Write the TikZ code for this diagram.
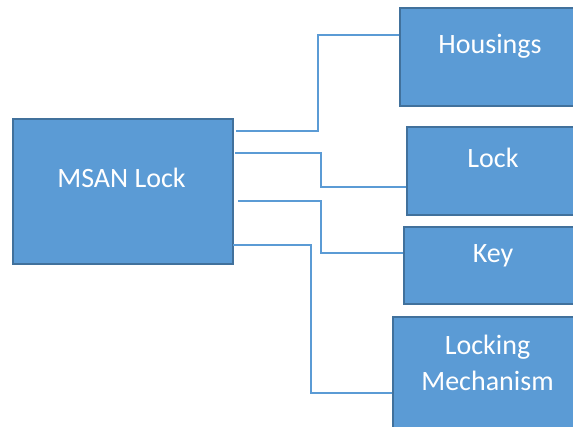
\documentclass[tikz,border=0pt]{standalone}
\usepackage{fontspec}
\setmainfont{Carlito}
\definecolor{boxfill}{HTML}{5B9BD5}
\definecolor{boxline}{HTML}{41719C}
\begin{document}
\begin{tikzpicture}[x=1pt,y=-1pt,
  box/.style={draw=boxline, line width=1.2pt, fill=boxfill, inner sep=0pt, minimum width=200pt},
  lbl/.style={text=white, font=\fontsize{28}{36}\selectfont, inner sep=0pt, anchor=base, align=center},
  conn/.style={draw=boxfill, line width=1.4pt}]
\useasboundingbox (0,0) rectangle (573,427);
\clip (0,0) rectangle (573,427);
\node[box, minimum width=220pt, minimum height=145pt] (msan) at (123,191.5) {};
\node[box, minimum height=98pt] (hous) at (500,57) {};
\node[box, minimum height=88pt] (lock) at (507,171) {};
\node[box, minimum height=77pt] (key) at (504,265.5) {};
\node[box, minimum height=123pt] (lockm) at (493,378.5) {};
\node[lbl] (t0) at (121.5,188) {MSAN Lock};
\node[lbl] (t1) at (490,54) {Housings};
\node[lbl] (t2) at (493,168) {Lock};
\node[lbl] (t3) at (493,263) {Key};
\node[lbl] (t4) at (487.5,391) {Locking\\Mechanism};
\coordinate (s1) at (236,131);
\coordinate (s2) at (235,153);
\coordinate (s3) at (238,201);
\coordinate (s4) at (233,245);
\draw[conn] (s1) -- (318,131) |- (hous.west |- 0,35);
\draw[conn] (s2) -- (321,153) |- (lock.west |- 0,187);
\draw[conn] (s3) -- (321,201) |- (key.west |- 0,253);
\draw[conn] (s4) -- (311,245) |- (lockm.west |- 0,393);
\end{tikzpicture}
\end{document}
